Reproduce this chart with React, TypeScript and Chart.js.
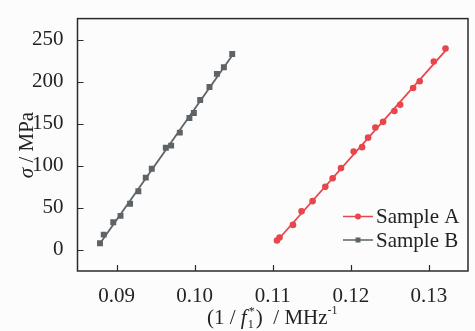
import React, { useEffect, useRef } from "react";
import { Chart, registerables } from "chart.js";

Chart.register(...registerables);

const sampleAX = [0.11054, 0.11087, 0.11259, 0.11369, 0.1151, 0.11673, 0.11767, 0.11874, 0.12036, 0.12144, 0.12221, 0.12314, 0.12413, 0.12558, 0.12631, 0.12797, 0.12882, 0.13062, 0.13212];
const sampleAY = [11.3, 14.7, 29.8, 45.9, 58.0, 75.0, 85.2, 97.3, 116.9, 122.2, 133.5, 145.5, 152.3, 165.2, 172.6, 192.6, 200.6, 224.0, 239.4];
const sampleBX = [0.08788, 0.08836, 0.08958, 0.09051, 0.09173, 0.09279, 0.09374, 0.09451, 0.09631, 0.09699, 0.0981, 0.09933, 0.0999, 0.10071, 0.1019, 0.10285, 0.10374, 0.10481];
const sampleBY = [7.9, 18.2, 33.0, 40.5, 55.0, 69.7, 86.0, 96.5, 121.4, 124.0, 139.5, 156.8, 162.9, 178.3, 193.8, 209.3, 217.2, 233.0];
const xTicks = [0.09, 0.1, 0.11, 0.12, 0.13];
const yTicks = [0, 50, 100, 150, 200, 250];
const seriesNames = ["Sample A", "Sample B"];

const RED = "#e8464d";
const GREY = "#5d6367";
const INK = "#232323";
const FONT = "Liberation Serif";
const FS = 21;

function fit(xs: number[], ys: number[]) {
  const n = xs.length;
  const mx = xs.reduce((a, b) => a + b, 0) / n;
  const my = ys.reduce((a, b) => a + b, 0) / n;
  let sxy = 0, sxx = 0;
  for (let i = 0; i < n; i++) {
    sxy += (xs[i] - mx) * (ys[i] - my);
    sxx += (xs[i] - mx) * (xs[i] - mx);
  }
  const k = sxy / sxx;
  const b = my - k * mx;
  const x0 = Math.min(...xs), x1 = Math.max(...xs);
  return [{ x: x0, y: k * x0 + b }, { x: x1, y: k * x1 + b }];
}

const decor = {
  id: "decor",
  afterDraw(chart: any) {
    const ctx = chart.ctx;
    const a = chart.chartArea;
    const xs = chart.scales.x, ys = chart.scales.y;
    ctx.save();
    ctx.strokeStyle = "#2a2a2a";
    ctx.lineWidth = 1.5;
    ctx.strokeRect(a.left, a.top, a.right - a.left, a.bottom - a.top);
    ctx.lineWidth = 1.2;
    ctx.beginPath();
    for (const v of xTicks) {
      const px = Math.round(xs.getPixelForValue(v)) + 0.5;
      ctx.moveTo(px, a.bottom);
      ctx.lineTo(px, a.bottom - 6);
    }
    for (const v of yTicks) {
      const py = Math.round(ys.getPixelForValue(v)) + 0.5;
      ctx.moveTo(a.left, py);
      ctx.lineTo(a.left + 6, py);
    }
    ctx.stroke();

    // legend
    const items = [
      { name: seriesNames[0], color: RED, style: "circle", y: 216.5 },
      { name: seriesNames[1], color: GREY, style: "rect", y: 240 },
    ];
    for (const it of items) {
      ctx.strokeStyle = it.color;
      ctx.fillStyle = it.color;
      ctx.lineWidth = 1.5;
      ctx.beginPath();
      ctx.moveTo(343, it.y);
      ctx.lineTo(373, it.y);
      ctx.stroke();
      if (it.style === "circle") {
        ctx.beginPath();
        ctx.arc(358, it.y, 3, 0, Math.PI * 2);
        ctx.fill();
      } else {
        ctx.fillRect(355.5, it.y - 2.5, 5, 5);
      }
      ctx.fillStyle = INK;
      ctx.font = `${FS}px "${FONT}"`;
      ctx.textBaseline = "middle";
      ctx.textAlign = "left";
      ctx.fillText(it.name, 376, it.y + 1);
    }

    // x title
    ctx.fillStyle = INK;
    ctx.textBaseline = "alphabetic";
    let x = 207;
    const base = 324;
    const put = (t: string, font: string, dy = 0) => {
      ctx.font = font;
      ctx.fillText(t, x, base + dy);
      x += ctx.measureText(t).width;
    };
    put("(1 / ", `${FS}px "${FONT}"`);
    const fx = x;
    put("f", `italic ${FS}px "${FONT}"`);
    ctx.font = `12px "${FONT}"`;
    ctx.fillText("*", fx + 8, base - 9);
    ctx.fillText("1", fx + 7, base + 4);
    x = fx + 15;
    put(")  / MHz", `${FS}px "${FONT}"`);
    put("-1", `12px "${FONT}"`, -10);

    // y title
    ctx.save();
    ctx.translate(33, 145);
    ctx.rotate(-Math.PI / 2);
    const rest = " / MPa";
    ctx.font = `italic ${FS}px "${FONT}"`;
    const sw = ctx.measureText("σ").width;
    ctx.font = `${FS}px "${FONT}"`;
    const rw = ctx.measureText(rest).width;
    const tx = -(sw + rw) / 2;
    ctx.font = `italic ${FS}px "${FONT}"`;
    ctx.fillText("σ", tx, 0);
    ctx.font = `${FS}px "${FONT}"`;
    ctx.fillText(rest, tx + sw, 0);
    ctx.restore();

    ctx.restore();
  },
};

export default function App() {
  const ref = useRef<HTMLCanvasElement>(null);
  useEffect(() => {
    document.body.style.margin = "0";
    document.body.style.background = "#fcfcfc";
    const ptsA = sampleAX.map((x, i) => ({ x, y: sampleAY[i] }));
    const ptsB = sampleBX.map((x, i) => ({ x, y: sampleBY[i] }));
    const chart = new Chart(ref.current!, {
      type: "scatter",
      data: {
        datasets: [
          { label: seriesNames[0] + " fit", data: fit(sampleAX, sampleAY), showLine: true, borderColor: RED, borderWidth: 1.8, pointRadius: 0, order: 2 },
          { label: seriesNames[1] + " fit", data: fit(sampleBX, sampleBY), showLine: true, borderColor: GREY, borderWidth: 1.8, pointRadius: 0, order: 2 },
          { label: seriesNames[0], data: ptsA, backgroundColor: RED, borderColor: RED, pointRadius: 3.3, pointStyle: "circle", borderWidth: 0, order: 1 },
          { label: seriesNames[1], data: ptsB, backgroundColor: GREY, borderColor: GREY, pointRadius: 4.2, pointStyle: "rect", borderWidth: 0, order: 1 },
        ],
      },
      options: {
        animation: false,
        responsive: false,
        layout: { padding: { top: 6, right: 7, left: 0, bottom: 0 } },
        plugins: { legend: { display: false }, tooltip: { enabled: false } },
        scales: {
          x: {
            type: "linear",
            min: 0.085,
            max: 0.135,
            grid: { display: false },
            border: { display: false },
            afterFit: (s: any) => { s.height = 60; },
            afterBuildTicks: (s: any) => { s.ticks = xTicks.map((v) => ({ value: v })); },
            ticks: {
              padding: 5,
              color: INK,
              font: { family: FONT, size: FS },
              callback: (v: any) => Number(v).toFixed(2),
            },
          },
          y: {
            type: "linear",
            min: -25,
            max: 275,
            grid: { display: false },
            border: { display: false },
            afterFit: (s: any) => { s.width = 77.5; },
            afterBuildTicks: (s: any) => { s.ticks = yTicks.map((v) => ({ value: v })); },
            ticks: {
              padding: 6,
              color: INK,
              font: { family: FONT, size: FS },
              callback: (v: any) => String(v),
            },
          },
        },
      },
      plugins: [decor],
    });
    return () => chart.destroy();
  }, []);
  return (
    <div style={{ width: 475, height: 331 }}>
      <canvas ref={ref} width={475} height={331} style={{ display: "block" }} />
    </div>
  );
}
